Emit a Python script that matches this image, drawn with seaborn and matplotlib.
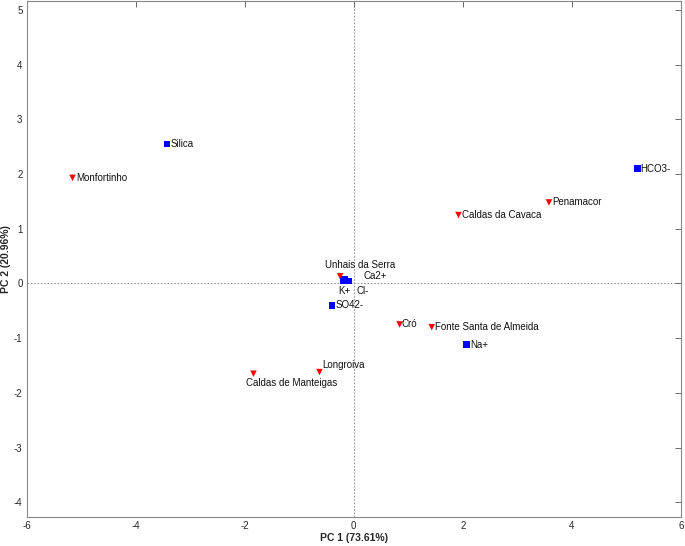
import matplotlib
matplotlib.use("Agg")
import matplotlib.pyplot as plt
import seaborn as sns
import pandas as pd

# Sites (scores) - red triangles
site_names = ["Monfortinho", "Penamacor", "Caldas da Cavaca", "Cró", "Fonte Santa de Almeida",
              "Longroiva", "Caldas de Manteigas", "Unhais da Serra"]
site_pc1 = [-5.16, 3.58, 1.92, 0.84, 1.43, -0.63, -1.84, -0.25]
site_pc2 = [1.93, 1.48, 1.25, -0.75, -0.80, -1.62, -1.65, 0.13]

# Variables (loadings) - blue squares
var_names = ["Silica", "HCO3-", "Na+", "SO42-", "K+", "Cl-", "Ca2+"]
var_pc1 = [-3.43, 5.20, 2.07, -0.40, -0.20, -0.10, -0.17]
var_pc2 = [2.55, 2.10, -1.12, -0.40, 0.04, 0.04, 0.08]

df = pd.DataFrame({
    "PC1": site_pc1 + var_pc1,
    "PC2": site_pc2 + var_pc2,
    "name": site_names + var_names,
    "kind": ["site"] * len(site_names) + ["var"] * len(var_names),
})

sns.set_style("white")
plt.rcParams['font.family'] = ['Liberation Sans', 'DejaVu Sans']
plt.rcParams['axes.unicode_minus'] = False

fig = plt.figure(figsize=(6.85, 5.46), dpi=100)
ax = fig.add_axes([0.039, 0.053, 0.955, 0.945])

ax.axhline(0, color="#999999", ls=(0, (1.5, 1.5)), lw=0.8, zorder=0)
ax.axvline(0, color="#999999", ls=(0, (1.5, 1.5)), lw=0.8, zorder=0)

sns.scatterplot(data=df, x="PC1", y="PC2", hue="kind", style="kind",
                palette={"site": "#ff0000", "var": "#0000ff"},
                markers={"site": "v", "var": "s"}, s=22, edgecolor="none",
                legend=False, ax=ax, zorder=3)

fs = 7
# label offsets (in data units) and alignment
offsets = {
    "Monfortinho": (0.06, 0.0, "left", "center"),
    "Penamacor": (0.06, 0.0, "left", "center"),
    "Caldas da Cavaca": (0.06, 0.0, "left", "center"),
    "Cró": (0.04, 0.0, "left", "center"),
    "Fonte Santa de Almeida": (0.06, 0.0, "left", "center"),
    "Longroiva": (0.05, 0.13, "left", "center"),
    "Caldas de Manteigas": (-0.13, -0.17, "left", "center"),
    "Unhais da Serra": (0.36, 0.21, "center", "center"),
    "Silica": (0.06, 0.0, "left", "center"),
    "HCO3-": (0.06, 0.0, "left", "center"),
    "Na+": (0.06, 0.0, "left", "center"),
    "SO42-": (0.06, 0.0, "left", "center"),
    "K+": (0.03, -0.18, "center", "center"),
    "Cl-": (0.26, -0.18, "center", "center"),
    "Ca2+": (0.35, 0.06, "left", "center"),
}
for _, r in df.iterrows():
    dx, dy, ha, va = offsets[r["name"]]
    ax.text(r["PC1"] + dx, r["PC2"] + dy, r["name"], fontsize=fs, ha=ha, va=va, color="#111111")

ax.set_xlim(-6, 6)
ax.set_ylim(-4.27, 5.16)
ax.set_xticks(range(-6, 7, 2))
ax.set_yticks(range(-4, 6, 1))
ax.set_xlabel("PC 1 (73.61%)", fontsize=7.5, fontweight="bold", labelpad=1)
ax.set_ylabel("PC 2 (20.96%)", fontsize=7.5, fontweight="bold", labelpad=2)
ax.tick_params(axis="both", direction="in", length=4.5, width=0.6, labelsize=7,
               top=True, right=True, color="#555555")
ax.tick_params(axis="y", pad=3)
ax.tick_params(axis="x", pad=3)
for sp in ax.spines.values():
    sp.set_color("#888888")
    sp.set_linewidth(0.8)

fig.savefig("out.png", dpi=100)
